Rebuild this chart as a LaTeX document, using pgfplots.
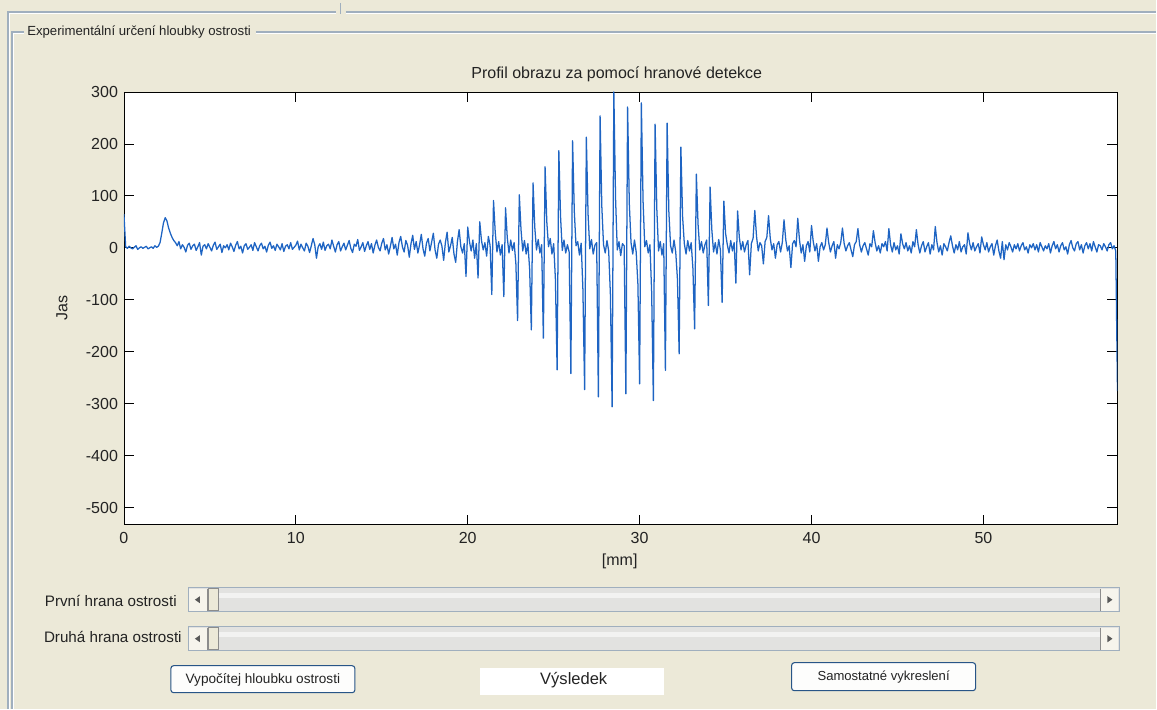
\documentclass[border=0pt]{standalone}
\usepackage{fontspec}
\setmainfont{Liberation Sans}
\usepackage{pgfplots}
\pgfplotsset{compat=1.18}

\definecolor{guibg}{RGB}{236,233,216}
\definecolor{etch}{RGB}{160,175,190}
\definecolor{trace}{RGB}{30,100,195}
\definecolor{track}{RGB}{226,226,224}
\definecolor{btnborder}{RGB}{40,85,135}
\definecolor{guitext}{RGB}{35,35,35}

\newcommand{\slider}[1]{%
  \draw[etch, fill=track] (188,#1) rectangle (1120,#1+24);
  \fill[white!55!track] (218,#1+5) rectangle (1100,#1+10);
  \fill[guibg!50!white] (189,#1+1) rectangle (207,#1+23);
  \fill[guibg!50!white] (1101,#1+1) rectangle (1119,#1+23);
  \draw[black!45] (207,#1+1) -- (207,#1+23);
  \draw[black!45] (1101,#1+1) -- (1101,#1+23);
  \draw[black!45, fill=guibg] (208,#1+1) rectangle (218,#1+23);
  \fill[black!65] (195,#1+12) -- (200,#1+8.5) -- (200,#1+15.5) -- cycle;
  \fill[black!65] (1113,#1+12) -- (1108,#1+8.5) -- (1108,#1+15.5) -- cycle;
}

\begin{document}
\begin{tikzpicture}[x=0.75pt,y=-0.75pt]
% window background and etched frames
\fill[guibg] (0,0) rectangle (1157,709);
\draw[etch, line width=0.8pt] (8,709) -- (8,12) -- (336,12);
\draw[etch, line width=0.8pt] (346,12) -- (1157,12);
\draw[etch, line width=0.8pt] (341,3) -- (341,14);
\draw[white, line width=0.6pt] (9.5,709) -- (9.5,13.5) -- (336,13.5);
\draw[white, line width=0.6pt] (346,13.5) -- (1157,13.5);
\draw[etch, line width=0.8pt] (24,32) -- (12,32) -- (12,709);
\draw[etch, line width=0.8pt] (256,32) -- (1157,32);
\draw[white, line width=0.6pt] (24,33.5) -- (13.5,33.5) -- (13.5,709);
\draw[white, line width=0.6pt] (256,33.5) -- (1157,33.5);
\node[anchor=west, inner sep=0, text=guitext, font=\fontsize{9.9}{11}\selectfont]
  at (27,32) {Experimentální určení hloubky ostrosti};

% axis box: left 124 px, bottom 525 px (page units given in pt)
\begin{axis}[
  at={(93pt,-393.75pt)}, anchor=south west,
  scale only axis, width=745.5pt, height=324.75pt,
  xmin=0, xmax=57.8, ymin=-533, ymax=300,
  xtick={0,10,20,30,40,50},
  xticklabels={0,10,20,30,40,50},
  ytick={-500,-400,-300,-200,-100,0,100,200,300},
  yticklabels={-500,-400,-300,-200,-100,0,100,200,300},
  xtick pos=both, ytick pos=both,
  tick align=inside, major tick length=7.5pt,
  major tick style={black, line width=0.6pt},
  axis line style={black, line width=0.6pt},
  axis background/.style={fill=white},
  ticklabel style={font=\fontsize{12}{14}\selectfont, text=guitext},
  xticklabel style={yshift=-2pt},
  yticklabel style={xshift=-1pt},
  title={Profil obrazu za pomocí hranové detekce},
  title style={at={(axis description cs:0.496,1.0135)}, anchor=base,
    font=\fontsize{12}{14}\selectfont, text=guitext},
  xlabel={[mm]},
  xlabel style={at={(axis description cs:0.499,-0.0855)}, anchor=center,
    font=\fontsize{12}{14}\selectfont, text=guitext},
  ylabel={Jas},
  ylabel style={at={(axis description cs:-0.0624,0.5)}, anchor=center, rotate=0,
    font=\fontsize{12}{14}\selectfont, text=guitext},
]
% edge-detection profile, one sample every 0.1 mm
\addplot[trace, line width=0.95pt, line join=round]
  table[x expr=\coordindex*0.1, y index=0, header=false, row sep=\\] {
65\\ 2\\ -1\\ 3\\ 0\\ -2\\ 1\\ 4\\ -3\\ 0\\
2\\ -1\\ 1\\ 3\\ -2\\ 0\\ 2\\ -1\\ 4\\ 1\\
3\\ 10\\ 28\\ 48\\ 58\\ 52\\ 38\\ 28\\ 20\\ 14\\
10\\ 4\\ 12\\ -2\\ 6\\ 1\\ -8\\ 5\\ 9\\ -3\\
4\\ 7\\ -5\\ 2\\ 10\\ -14\\ 3\\ 6\\ -2\\ 8\\
1\\ -6\\ 5\\ 11\\ -3\\ 2\\ 7\\ -9\\ 4\\ 0\\
6\\ -4\\ 9\\ 2\\ -7\\ 5\\ 12\\ -2\\ 3\\ -10\\
4\\ 8\\ -3\\ 1\\ 6\\ -5\\ 10\\ 2\\ -6\\ 4\\
9\\ -2\\ 3\\ -8\\ 5\\ 11\\ -1\\ 4\\ -5\\ 7\\
2\\ -4\\ 8\\ -7\\ 3\\ 6\\ -2\\ 10\\ -3\\ 1\\
5\\ 13\\ -4\\ 7\\ 0\\ -6\\ 9\\ 3\\ -9\\ 4\\
18\\ 6\\ -20\\ 2\\ 8\\ -3\\ 11\\ -5\\ 4\\ 7\\
-2\\ 15\\ 3\\ -8\\ 6\\ 12\\ -6\\ 2\\ 9\\ -4\\
5\\ 14\\ -1\\ -9\\ 7\\ 3\\ 16\\ -5\\ 2\\ 10\\
-7\\ 4\\ 12\\ -3\\ 8\\ -10\\ 5\\ 15\\ 1\\ -6\\
9\\ 18\\ -4\\ 6\\ -12\\ 3\\ 20\\ -2\\ 7\\ -14\\
10\\ 22\\ 2\\ -8\\ 14\\ 5\\ -18\\ 8\\ 24\\ -3\\
12\\ -10\\ 6\\ 26\\ -2\\ -16\\ 9\\ 18\\ -6\\ 11\\
28\\ -4\\ -20\\ 7\\ 15\\ 3\\ -24\\ 10\\ 30\\ -8\\
4\\ 20\\ -12\\ -28\\ 12\\ 35\\ 2\\ -10\\ 8\\ -55\\
40\\ 12\\ -6\\ 15\\ -20\\ 8\\ -58\\ 50\\ 14\\ -4\\
10\\ -16\\ 22\\ 5\\ -90\\ 91\\ 30\\ -8\\ 12\\ -14\\
6\\ -94\\ 77\\ 20\\ -10\\ 15\\ -5\\ 10\\ -30\\ -140\\
102\\ 35\\ -6\\ 14\\ -12\\ 8\\ -40\\ -158\\ 125\\ 40\\
-4\\ 16\\ -10\\ 6\\ -174\\ 156\\ 50\\ 2\\ 18\\ -12\\
8\\ -60\\ -235\\ 187\\ 60\\ -5\\ 15\\ -10\\ 6\\ -8\\
-242\\ 206\\ 70\\ 4\\ 12\\ -14\\ 9\\ -80\\ -273\\ 213\\
65\\ -2\\ 16\\ -12\\ 5\\ 10\\ -287\\ 254\\ 80\\ 6\\
-10\\ 14\\ -6\\ -90\\ -306\\ 300\\ 95\\ -4\\ 12\\ -15\\
8\\ 4\\ -281\\ 271\\ 85\\ 10\\ -12\\ 15\\ -8\\ -70\\
-262\\ 279\\ 90\\ 2\\ 14\\ -10\\ 6\\ -85\\ -294\\ 238\\
75\\ -6\\ 12\\ -14\\ 8\\ -236\\ 240\\ 70\\ 4\\ -10\\
15\\ -8\\ -60\\ -204\\ 194\\ 60\\ 8\\ -12\\ 14\\ -6\\
10\\ -40\\ -156\\ 142\\ 45\\ -4\\ 12\\ -10\\ 6\\ 15\\
-111\\ 117\\ 35\\ -8\\ 10\\ -12\\ 16\\ -4\\ -105\\ 90\\
28\\ 6\\ -10\\ 14\\ -6\\ 10\\ -68\\ 71\\ 20\\ -4\\
12\\ -8\\ 6\\ 14\\ -52\\ 8\\ 18\\ 72\\ 22\\ -6\\
10\\ 4\\ -31\\ 12\\ 20\\ 62\\ 18\\ -4\\ 8\\ -20\\
6\\ 12\\ -8\\ 10\\ 54\\ 16\\ -6\\ 4\\ -38\\ 8\\
14\\ 2\\ 57\\ 15\\ -10\\ 6\\ -26\\ 4\\ 12\\ -8\\
43\\ 12\\ -6\\ 8\\ -26\\ 2\\ 10\\ -4\\ 6\\ 38\\
10\\ -8\\ 4\\ 12\\ -20\\ 6\\ -2\\ 10\\ 38\\ 8\\
-6\\ 4\\ 10\\ -4\\ -17\\ 6\\ 12\\ 37\\ 6\\ -8\\
4\\ 10\\ -2\\ -14\\ 8\\ 2\\ 33\\ 10\\ -6\\ 4\\
-10\\ 8\\ 2\\ 12\\ -6\\ 37\\ 6\\ -8\\ 10\\ -4\\
4\\ -12\\ 27\\ 8\\ -2\\ 10\\ -6\\ 4\\ -10\\ 12\\
2\\ 35\\ 6\\ -10\\ 4\\ 12\\ -8\\ 2\\ 10\\ -12\\
6\\ -4\\ 41\\ 10\\ -8\\ 4\\ -14\\ 8\\ 2\\ -6\\
10\\ 23\\ 4\\ -10\\ 6\\ -4\\ 12\\ -8\\ 2\\ 6\\
-12\\ 29\\ 8\\ -4\\ 10\\ -6\\ 2\\ 8\\ -10\\ 21\\
6\\ -4\\ 10\\ -8\\ 2\\ 8\\ -14\\ 4\\ 15\\ -6\\
-20\\ 12\\ -23\\ 6\\ -4\\ 10\\ 2\\ -8\\ 6\\ -2\\
8\\ -6\\ 4\\ 10\\ -4\\ 2\\ -10\\ 6\\ 0\\ 8\\
-4\\ 6\\ -8\\ 10\\ 2\\ -6\\ 4\\ -2\\ 8\\ -10\\
4\\ 12\\ -2\\ 6\\ -8\\ 4\\ 10\\ -4\\ 2\\ -12\\
6\\ 14\\ 0\\ -6\\ 8\\ 12\\ -4\\ 6\\ -10\\ 4\\
10\\ -2\\ 8\\ -6\\ 12\\ 2\\ -8\\ 6\\ 4\\ -4\\
8\\ 2\\ -6\\ 6\\ 10\\ -2\\ 4\\ -6\\ -276\\
};
\end{axis}

% sliders
\slider{588}
\slider{627}
\node[anchor=east, inner sep=0, text=guitext, font=\fontsize{11.4}{13}\selectfont]
  at (177,601) {První hrana ostrosti};
\node[anchor=east, inner sep=0, text=guitext, font=\fontsize{11.4}{13}\selectfont]
  at (182,637) {Druhá hrana ostrosti};

% buttons and result box
\draw[btnborder, line width=0.8pt, fill=white!92!guibg, rounded corners=2pt]
  (171,666) rectangle (355,693);
\node[text=guitext, font=\fontsize{10.2}{12}\selectfont] at (263,680) {Vypočítej hloubku ostrosti};
\fill[white] (480,668) rectangle (664,695);
\node[text=guitext, font=\fontsize{12.4}{14}\selectfont] at (574,680) {Výsledek};
\draw[btnborder, line width=0.8pt, fill=white!92!guibg, rounded corners=2pt]
  (792,663) rectangle (976,691);
\node[text=guitext, font=\fontsize{9.8}{11}\selectfont] at (884,677) {Samostatné vykreslení};
\end{tikzpicture}
\end{document}
